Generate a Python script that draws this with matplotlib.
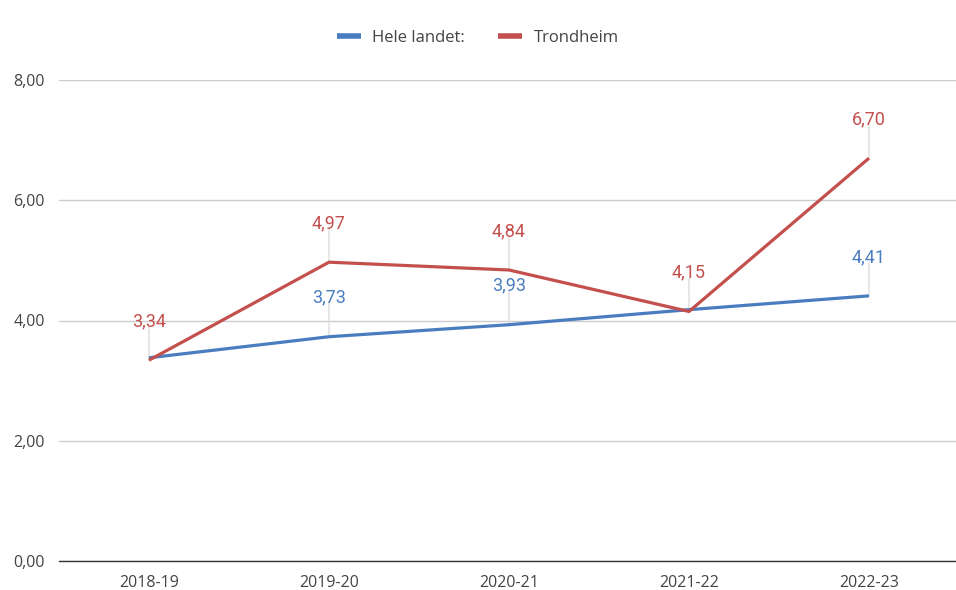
import matplotlib.pyplot as plt

seasons = ["2018-19", "2019-20", "2020-21", "2021-22", "2022-23"]
hele_landet = [3.38, 3.73, 3.93, 4.18, 4.41]
trondheim = [3.34, 4.97, 4.84, 4.15, 6.70]
# which points get a value label (Sheets hides overlapping ones)
hele_shown = [False, True, True, False, True]
trondheim_shown = [True, True, True, True, True]

blue = "#4a7dbf"
red = "#c4504e"

fig = plt.figure(figsize=(9.56, 5.90), dpi=100)
ax = fig.add_axes([59 / 956, 1 - 561 / 590, (959 - 59) / 956, (561 - 80) / 590])

x = list(range(len(seasons)))
ax.plot(x, hele_landet, color=blue, lw=2.3, label="Hele landet:", solid_capstyle="butt", zorder=3)
ax.plot(x, trondheim, color=red, lw=2.3, label="Trondheim", solid_capstyle="butt", zorder=4)


def add_labels(values, shown, color):
    for i, v in enumerate(values):
        if not shown[i]:
            continue
        # leader line from the point up to the label
        ax.annotate("", xy=(i, v), xytext=(0, 24), textcoords="offset points",
                    arrowprops=dict(arrowstyle="-", color="#dddddd", lw=1, shrinkA=0, shrinkB=0),
                    zorder=2)
        ax.annotate(f"{v:.2f}".replace(".", ","), xy=(i, v), xytext=(0, 28),
                    textcoords="offset points", ha="center", va="center",
                    color=color, fontsize=13, family="Roboto", zorder=5)


add_labels(hele_landet, hele_shown, blue)
add_labels(trondheim, trondheim_shown, red)

ax.set_xlim(-0.5, 4.5)
ax.set_ylim(0, 8)
ax.set_yticks([0, 2, 4, 6, 8])
ax.set_yticklabels([f"{t:.2f}".replace(".", ",") for t in [0, 2, 4, 6, 8]])
ax.set_xticks(x)
ax.set_xticklabels(seasons)
ax.tick_params(length=0, labelsize=11.5, labelcolor="#444444", pad=10)
for lab in ax.get_xticklabels() + ax.get_yticklabels():
    lab.set_family("Open Sans")
ax.grid(axis="y", color="#cccccc", lw=1)
ax.set_axisbelow(True)
for s in ["top", "right", "left"]:
    ax.spines[s].set_visible(False)
ax.spines["bottom"].set_color("#333333")
ax.spines["bottom"].set_linewidth(1)

leg = fig.legend(loc="center", bbox_to_anchor=(0.5, 1 - 38 / 590), ncol=2, frameon=False,
                 handlelength=1.4, handletextpad=0.7, columnspacing=2.0,
                 prop={"family": "Open Sans", "size": 12})
for h in leg.get_lines():
    h.set_linewidth(4)
for t in leg.get_texts():
    t.set_color("#444444")

fig.savefig("out.png", dpi=100)
